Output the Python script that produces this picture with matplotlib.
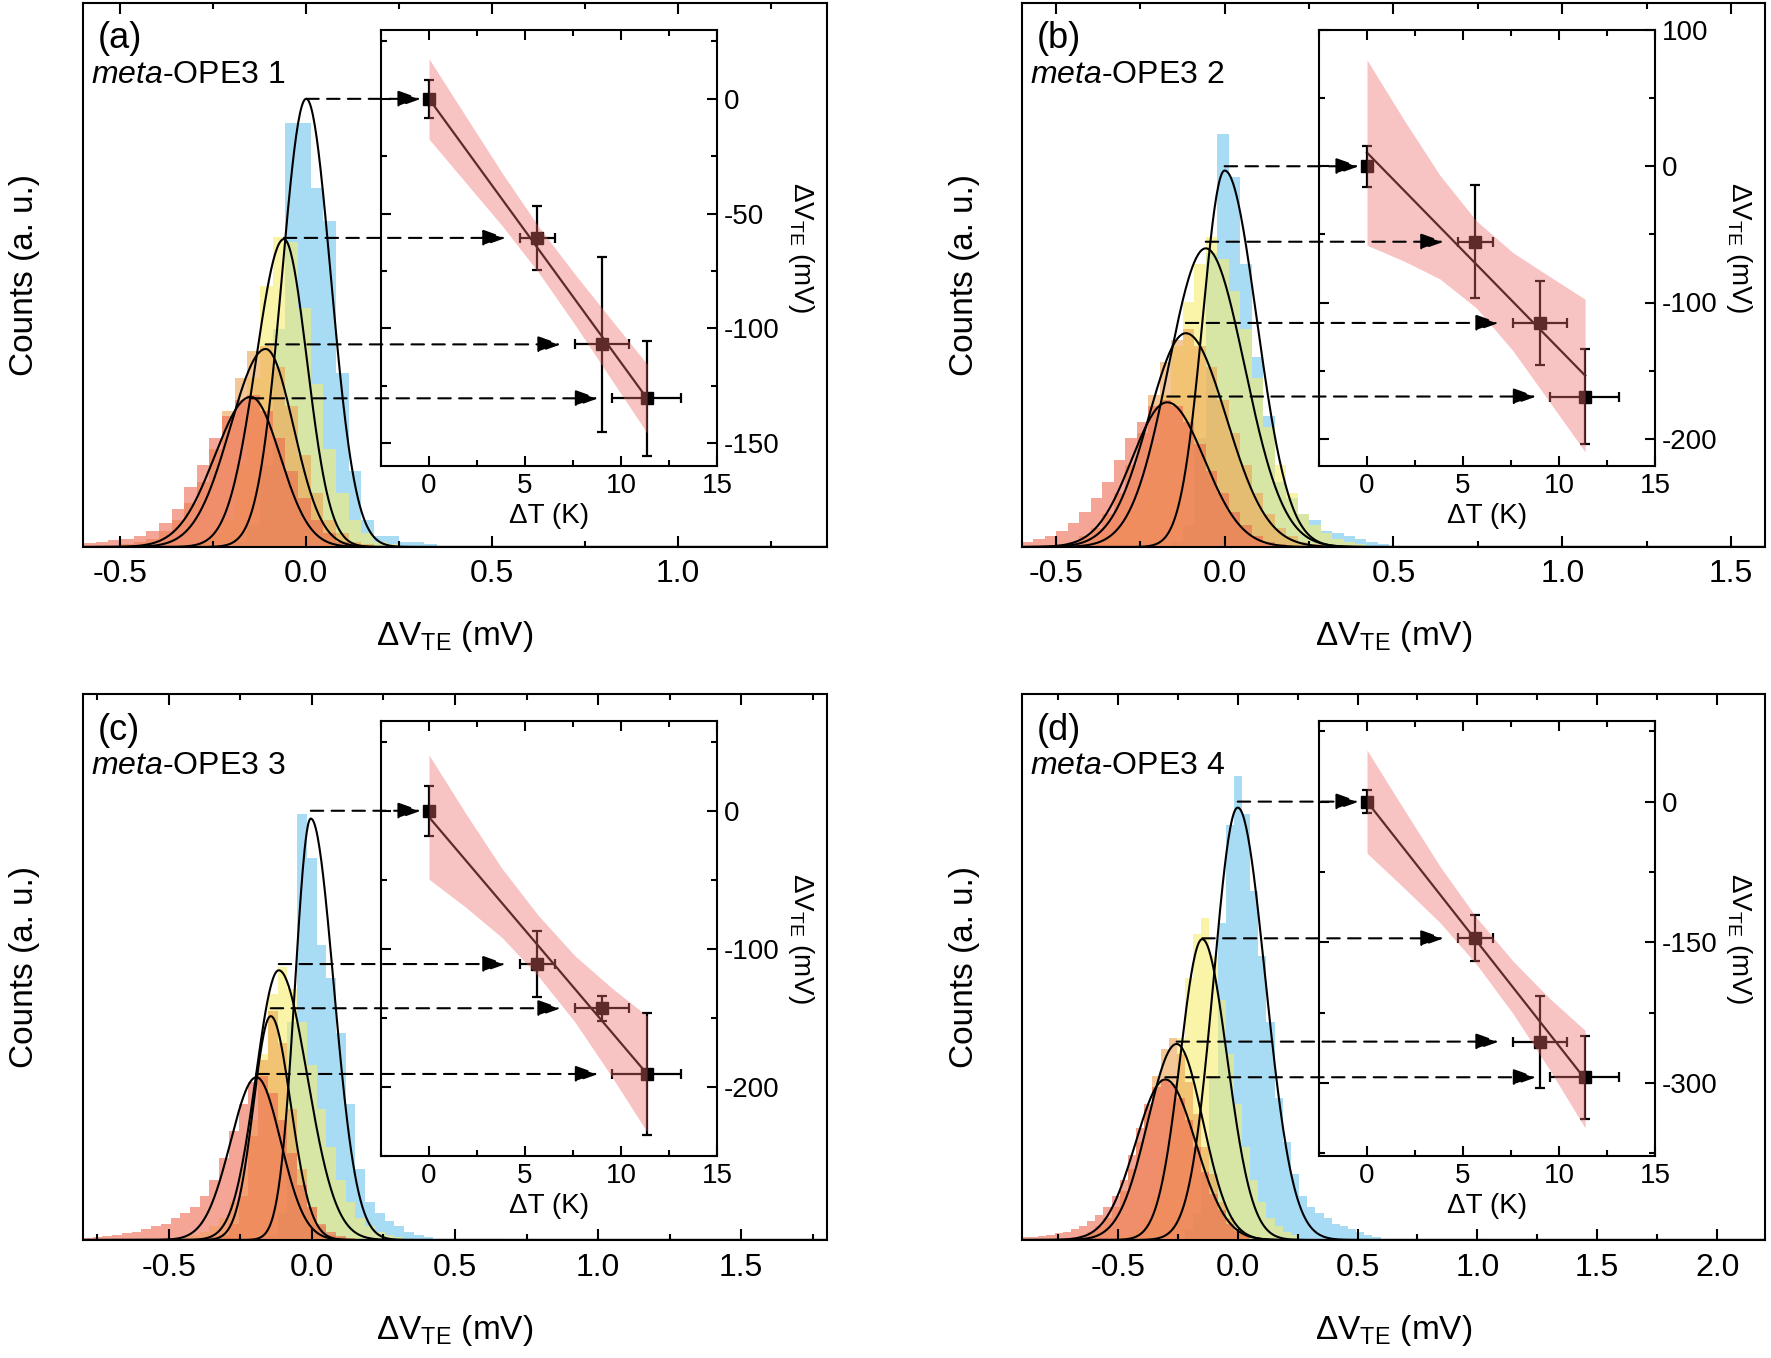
import numpy as np
import matplotlib.pyplot as plt
from matplotlib.ticker import MultipleLocator, AutoMinorLocator, FormatStrFormatter
from matplotlib.patches import FancyArrowPatch

plt.rcParams['font.family'] = ['Liberation Sans', 'DejaVu Sans']
plt.rcParams['mathtext.fontset'] = 'custom'
plt.rcParams['mathtext.rm'] = 'Liberation Sans'
plt.rcParams['mathtext.it'] = 'Liberation Sans:italic'
plt.rcParams['axes.unicode_minus'] = False

# ---------------- data ----------------
panel_tags = ['(a)', '(b)', '(c)', '(d)']
molecules = ['$\\mathit{meta}$-OPE3 1', '$\\mathit{meta}$-OPE3 2',
             '$\\mathit{meta}$-OPE3 3', '$\\mathit{meta}$-OPE3 4']
xlims = [(-0.6, 1.4), (-0.6, 1.6), (-0.8, 1.8), (-0.9, 2.2)]

# histograms (counts in % of axis height), order: blue, yellow, orange, red
bin_width = 0.034
hist_start = [-0.6, -0.6, -0.8, -0.9]

hist_a_blue = [0]*12 + [1, 4, 15, 40, 78, 78, 66, 60, 32, 14, 5, 2, 2, 1, 1, 0.5, 0, 0, 0, 0]
hist_a_yellow = [0]*8 + [0.5, 1, 2.5, 5, 15, 31, 48, 57, 56, 44, 30, 18, 10, 5, 2.5, 1, 0.5] + [0]*7
hist_a_orange = [0]*3 + [0.5, 1, 1.5, 3, 5, 8, 12, 18, 25, 31, 36, 37, 33, 26, 17, 10, 5, 2.5, 1, 0.5] + [0]*9
hist_a_red = [0.8, 1, 1.2, 1.5, 2, 3, 4.5, 7, 11, 15, 20, 24, 27, 28, 25, 20, 14, 9, 5, 2.5, 1, 0.5] + [0]*10

hist_b_blue = [0]*13 + [1, 4, 20, 54, 76, 68, 52, 35, 24, 12, 9, 6, 5, 3, 2.5, 2, 1.5, 1, 0.5]
hist_b_yellow = [0]*5 + [0.5, 1, 2, 4, 7, 12, 19, 28, 37, 45, 52, 57, 53, 47, 40, 31, 22, 15, 10,
                         6, 4, 2.5, 1.5, 1, 0.5] + [0]*2
hist_b_orange = [0]*3 + [0.5, 1, 2, 3.5, 6, 10, 15, 21, 28, 34, 38, 40, 37, 33, 27, 21, 15, 10,
                         6, 3.5, 2, 1, 0.5] + [0]*6
hist_b_red = [1, 1.5, 2, 3, 4.5, 6.5, 9, 12, 16, 20, 23, 26, 27, 26, 23, 19, 14, 10, 6.5, 4, 2,
              1, 0.5] + [0]*9

hist_c_blue = [0]*18 + [0.5, 1, 5, 40, 78, 70, 54, 48, 38, 25, 13, 7, 5, 3.5, 2.5, 1.5, 1, 0.5] + [0]*4
hist_c_yellow = [0]*10 + [0.5, 1, 1.5, 2.5, 4, 7, 13, 22, 34, 45, 50, 46, 40, 32, 24, 17, 11, 7, 4,
                          2.5, 1.5, 1, 0.5] + [0]*7
hist_c_orange = [0]*13 + [0.5, 1, 3, 8, 19, 33, 42, 36, 24, 13, 6, 2.5, 1, 0.5] + [0]*13
hist_c_red = [0.3, 0.5, 0.7, 1, 1.2, 1.5, 2, 2.5, 3, 4, 5, 6, 8, 11, 15, 20, 25, 29, 30, 27, 22,
              16, 10, 6, 3, 1.5, 0.8, 0.3] + [0]*12

hist_d_blue = [0]*20 + [2, 5, 12, 30, 58, 76, 85, 78, 64, 52, 40, 26, 18, 12, 8, 6, 5, 4, 3, 2.5,
                        2, 1.5, 1, 0.5]
hist_d_yellow = [0]*12 + [0.5, 1, 2, 4, 8, 15, 25, 37, 48, 56, 59, 52, 44, 34, 25, 17, 11, 7, 4,
                          2.5, 1.5, 1] + [0]*10
hist_d_orange = [0]*6 + [0.5, 1, 1.5, 2.5, 4, 6, 9, 13, 18, 24, 30, 35, 37, 34, 29, 23, 17, 12, 7,
                         4, 2, 1] + [0]*16
hist_d_red = [0.5, 0.6, 0.8, 1, 1.2, 1.5, 2, 2.5, 3.5, 4.5, 6, 8, 11, 15.5, 20.5, 25, 28, 29.5,
              28.5, 26, 22, 17, 12.5, 8.5, 5.5, 3, 1.7, 0.9] + [0]*16

hists = [[hist_a_blue, hist_a_yellow, hist_a_orange, hist_a_red],
         [hist_b_blue, hist_b_yellow, hist_b_orange, hist_b_red],
         [hist_c_blue, hist_c_yellow, hist_c_orange, hist_c_red],
         [hist_d_blue, hist_d_yellow, hist_d_orange, hist_d_red]]

# fitted peaks: centre (mV), height (%), left / right width (mV)
fit_center = [[0.0, -0.06, -0.109, -0.149],
              [0.0, -0.056, -0.115, -0.17],
              [-0.004, -0.116, -0.144, -0.194],
              [0.0, -0.148, -0.255, -0.302]]
fit_height = [[82.4, 56.6, 36.4, 27.6],
              [69.2, 54.9, 39.3, 26.6],
              [77.2, 49.4, 41.0, 29.8],
              [79.2, 55.1, 35.9, 29.4]]
fit_sl = [[0.065, 0.075, 0.095, 0.097],
          [0.065, 0.11, 0.11, 0.105],
          [0.055, 0.08, 0.06, 0.09],
          [0.10, 0.092, 0.12, 0.124]]
fit_sr = [[0.066, 0.062, 0.075, 0.079],
          [0.095, 0.115, 0.12, 0.11],
          [0.08, 0.10, 0.07, 0.085],
          [0.115, 0.104, 0.11, 0.127]]

# insets: dV_TE vs dT
dT = [0, 5.65, 9.0, 11.35]
dT_err = [0, 0.92, 1.4, 1.8]
dV = [[0, -60.6, -107, -130.5],
      [0, -55.4, -115, -169],
      [0, -111, -143, -190.6],
      [0, -145.8, -256, -294]]
dV_err = [[8.4, 13.8, 38, 25],
          [15, 41.5, 30.7, 35],
          [18, 24, 9, 44],
          [12, 24.4, 49, 44]]
fit_line_x = [0, 11.36]
fit_line_y = [[0, -130.6], [10, -153.6], [-4.6, -190.6], [0, -296]]
band_x = [0, 1.9, 3.8, 5.7, 7.6, 9.5, 11.36]
band_hi = [[17.5, -7.4, -32.2, -55.6, -76.4, -96.3, -115.6],
           [78, 34.6, -6.7, -40.1, -63.4, -80.8, -97.6],
           [40.4, -1.7, -41.8, -75.9, -105, -128.1, -148.6],
           [55, -7.5, -69, -123.5, -170, -209.6, -244]]
band_lo = [[-17.5, -36.4, -55.2, -75.6, -98.4, -122.3, -145.6],
           [-58, -69.4, -82.7, -104.1, -135.4, -172.8, -209.6],
           [-49.6, -69.7, -91.8, -119.9, -153, -192.1, -232.6],
           [-55, -91.5, -129, -173.5, -226, -285.6, -348]]
inset_ylims = [(-160, 30), (-220, 100), (-250, 65), (-378, 86)]
inset_ymajor = [50, 100, 100, 150]

# ---------------- layout (pixels) ----------------
W, H = 1771, 1358
main_boxes = [(83, 3, 827, 547), (1022, 3, 1765, 547),
              (83, 694, 827, 1240), (1022, 694, 1765, 1240)]
inset_boxes = [(381, 30, 717, 466), (1319, 30, 1655, 466),
               (381, 721, 717, 1156), (1319, 721, 1655, 1156)]

hist_colors = ['#6ec5ee', '#f7ee71', '#eea350', '#ee6950']
hist_alpha = 0.6
band_color = (0.93, 0.42, 0.42)
# drawing sequence: blue hist, blue fit, yellow hist, yellow fit, orange hist, red hist, orange fit, red fit
draw_order = [('h', 0), ('f', 0), ('h', 1), ('f', 1), ('h', 2), ('h', 3), ('f', 2), ('f', 3)]


def px_box(l, t, r, b):
    return [l / W, 1 - b / H, (r - l) / W, (b - t) / H]


def split_gauss(x, c, h, sl, sr):
    s = np.where(x < c, sl, sr)
    return h * np.exp(-0.5 * ((x - c) / s) ** 2)


fig = plt.figure(figsize=(W / 100, H / 100), dpi=100)

mains, insets = [], []
for p in range(4):
    l, t, r, b = main_boxes[p]
    ax = fig.add_axes(px_box(l, t, r, b))
    ax.set_xlim(xlims[p])
    ax.set_ylim(0, 100)
    ax.set_yticks([])
    ax.xaxis.set_major_locator(MultipleLocator(0.5))
    ax.xaxis.set_minor_locator(MultipleLocator(0.25))
    ax.xaxis.set_major_formatter(FormatStrFormatter('%.1f'))
    ax.tick_params(axis='x', which='both', direction='in', top=True, width=1.5,
                   labelsize=23, pad=9)
    ax.tick_params(axis='x', which='major', length=8)
    ax.tick_params(axis='x', which='minor', length=4)
    for s in ax.spines.values():
        s.set_linewidth(1.5)

    xs = np.linspace(xlims[p][0], xlims[p][1], 800)
    for kind, k in draw_order:
        if kind == 'h':
            h = np.array(hists[p][k], dtype=float)
            edges = hist_start[p] + bin_width * np.arange(len(h))
            ax.bar(edges, h, width=bin_width, align='edge', color=hist_colors[k],
                   alpha=hist_alpha, linewidth=0)
        else:
            ax.plot(xs, split_gauss(xs, fit_center[p][k], fit_height[p][k],
                                    fit_sl[p][k], fit_sr[p][k]), color='k', lw=1.5)

    fig.text((l + 15) / W, 1 - (t + 36) / H, panel_tags[p], fontsize=26,
             ha='left', va='center')
    fig.text((l + 8) / W, 1 - (t + 72) / H, molecules[p], fontsize=23,
             ha='left', va='center')
    fig.text((l + r) / 2 / W, 1 - (b + 90) / H, 'ΔV$_{\\mathrm{TE}}$ (mV)',
             fontsize=24, ha='center', va='center')
    fig.text((l - 58) / W, 1 - (t + b) / 2 / H, 'Counts (a. u.)', fontsize=24,
             ha='center', va='center', rotation=90)

    # inset
    il, it, ir, ib = inset_boxes[p]
    axi = fig.add_axes(px_box(il, it, ir, ib))
    axi.set_xlim(-2.5, 15)
    axi.set_ylim(inset_ylims[p])
    axi.xaxis.set_major_locator(MultipleLocator(5))
    axi.xaxis.set_minor_locator(MultipleLocator(2.5))
    axi.yaxis.set_major_locator(MultipleLocator(inset_ymajor[p]))
    axi.yaxis.set_minor_locator(AutoMinorLocator(2))
    axi.tick_params(which='both', direction='in', top=True, right=True, left=True,
                    labelleft=False, labelright=True, labelsize=20, width=1.5, pad=5)
    axi.tick_params(which='major', length=7)
    axi.tick_params(which='minor', length=4)
    for s in axi.spines.values():
        s.set_linewidth(1.5)
    axi.set_xlabel('ΔT (K)', fontsize=20, labelpad=3)
    axi.yaxis.set_label_position('right')
    axi.set_ylabel('ΔV$_{\\mathrm{TE}}$ (mV)', fontsize=20, rotation=270, labelpad=26)

    axi.plot(fit_line_x, fit_line_y[p], color='k', lw=1.6, zorder=2)
    axi.errorbar(dT, dV[p], xerr=dT_err, yerr=dV_err[p], fmt='s', color='k', ms=8,
                 capsize=3.5, elinewidth=1.6, capthick=1.6, zorder=3)
    axi.fill_between(band_x, band_lo[p], band_hi[p], color=band_color, alpha=0.4,
                     lw=0, zorder=4)
    mains.append(ax)
    insets.append(axi)

# dashed arrows from fitted peaks to inset points
inv = fig.transFigure.inverted()
for p in range(4):
    ax, axi = mains[p], insets[p]
    for k in range(4):
        y_disp = axi.transData.transform((0, dV[p][k]))[1]
        x0 = ax.transData.transform((fit_center[p][k], 0))[0]
        gap = 14 if dT_err[k] > 0 else 8
        x1 = axi.transData.transform((dT[k] - dT_err[k], 0))[0] - gap
        pa = inv.transform((x0, y_disp))
        pb = inv.transform((x1, y_disp))
        arr = FancyArrowPatch(pa, pb, transform=fig.transFigure,
                              arrowstyle='-|>,head_length=0.7,head_width=0.25',
                              mutation_scale=20, linestyle=(0, (6, 4)), lw=1.5,
                              color='k', shrinkA=0, shrinkB=0, zorder=5)
        fig.add_artist(arr)

fig.savefig('out.png', dpi=100)
